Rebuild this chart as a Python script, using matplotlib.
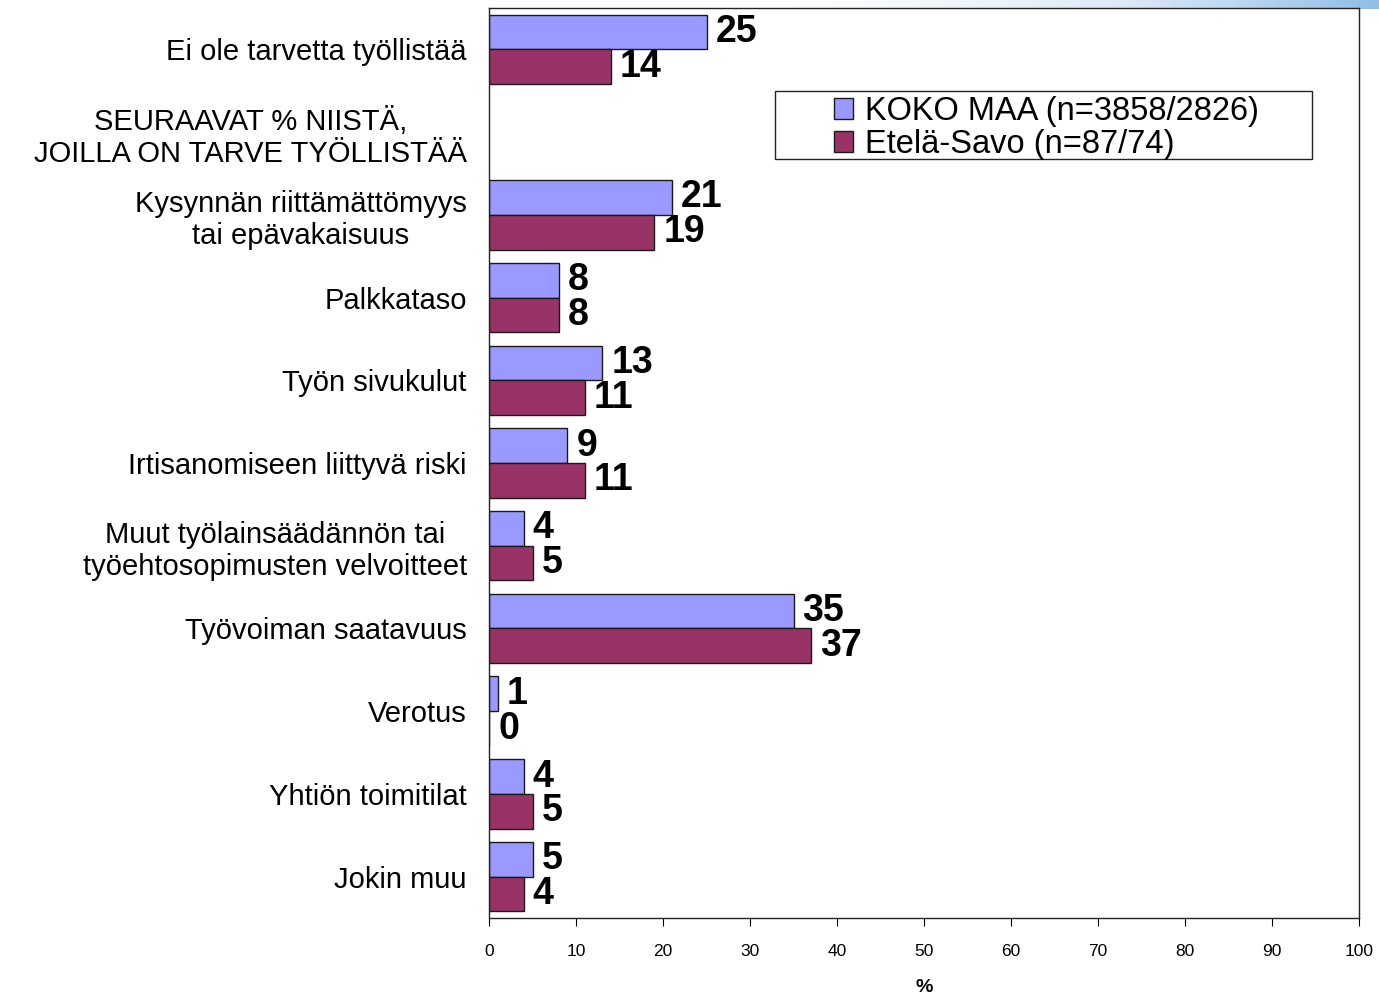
import matplotlib.pyplot as plt
from matplotlib.patches import Rectangle
import numpy as np

plt.rcParams['font.family'] = ['Liberation Sans', 'DejaVu Sans']

# Data
categories = ['Ei ole tarvetta työllistää',
              'SEURAAVAT % NIISTÄ,\nJOILLA ON TARVE TYÖLLISTÄÄ',
              'Kysynnän riittämättömyys\ntai epävakaisuus',
              'Palkkataso',
              'Työn sivukulut',
              'Irtisanomiseen liittyvä riski',
              'Muut työlainsäädännön tai\ntyöehtosopimusten velvoitteet',
              'Työvoiman saatavuus',
              'Verotus',
              'Yhtiön toimitilat',
              'Jokin muu']
koko_maa = [25, np.nan, 21, 8, 13, 9, 4, 35, 1, 4, 5]
etela_savo = [14, np.nan, 19, 8, 11, 11, 5, 37, 0, 5, 4]
series_names = ['KOKO MAA (n=3858/2826)', 'Etelä-Savo (n=87/74)']
colors = ['#9999FF', '#993366']

fig = plt.figure(figsize=(13.79, 9.98), dpi=100)

# light blue gradient strip along the top edge
grad = np.linspace(0, 1, 256).reshape(1, -1) ** 2
strip = fig.add_axes([0, 1 - 9 / 998, 1, 9 / 998])
strip.imshow(grad, aspect='auto', cmap=plt.matplotlib.colors.LinearSegmentedColormap.from_list(
    'g', ['#ffffff', '#ffffff', '#dce9f7', '#8fbfe8']), extent=[0, 1, 0, 1])
strip.axis('off')

ax = fig.add_axes([489 / 1379, 1 - 918 / 998, 870 / 1379, 910 / 998])

y = np.arange(len(categories))
h = 0.42
ax.barh(y - h / 2, koko_maa, height=h, color=colors[0], edgecolor='#1a1a1a',
        linewidth=1, label=series_names[0])
ax.barh(y + h / 2, etela_savo, height=h, color=colors[1], edgecolor='#1a1a1a',
        linewidth=1, label=series_names[1])

for i in range(len(categories)):
    for val, off in ((koko_maa[i], -h / 2), (etela_savo[i], h / 2)):
        if np.isnan(val):
            continue
        ax.annotate(f'{val:g}', (val, y[i] + off), xytext=(6.5, 0),
                    textcoords='offset points', va='center', ha='left',
                    fontsize=27, fontweight='bold')

ax.set_ylim(len(categories) - 0.5, -0.5)
ax.set_xlim(0, 100)
ax.set_yticks(y)
ax.set_yticklabels(categories, fontsize=21, ha='right', multialignment='center')
ax.tick_params(axis='y', length=0, pad=16)
ax.set_xticks(np.arange(0, 101, 10))
ax.tick_params(axis='x', direction='out', length=6, labelsize=12.5, pad=13)
ax.set_xlabel('%', fontsize=14, fontweight='bold', labelpad=14)
for s in ax.spines.values():
    s.set_color('#222222')
    s.set_linewidth(1)

# legend box drawn separately so the entries sit centered in a wide frame
box = Rectangle((775 / 1379, 1 - 159 / 998), 537 / 1379, 68 / 998,
                transform=fig.transFigure, facecolor='white',
                edgecolor='#222222', linewidth=1, zorder=4, clip_on=False)
ax.add_patch(box)
leg = ax.legend(loc='center', bbox_to_anchor=(1046 / 1379, 1 - 128 / 998),
                bbox_transform=fig.transFigure, fontsize=23.5, frameon=False,
                handlelength=0.6, handleheight=0.6, handletextpad=0.35,
                borderpad=0, labelspacing=0.05)
leg.set_zorder(6)

fig.savefig('out.png', dpi=100)
